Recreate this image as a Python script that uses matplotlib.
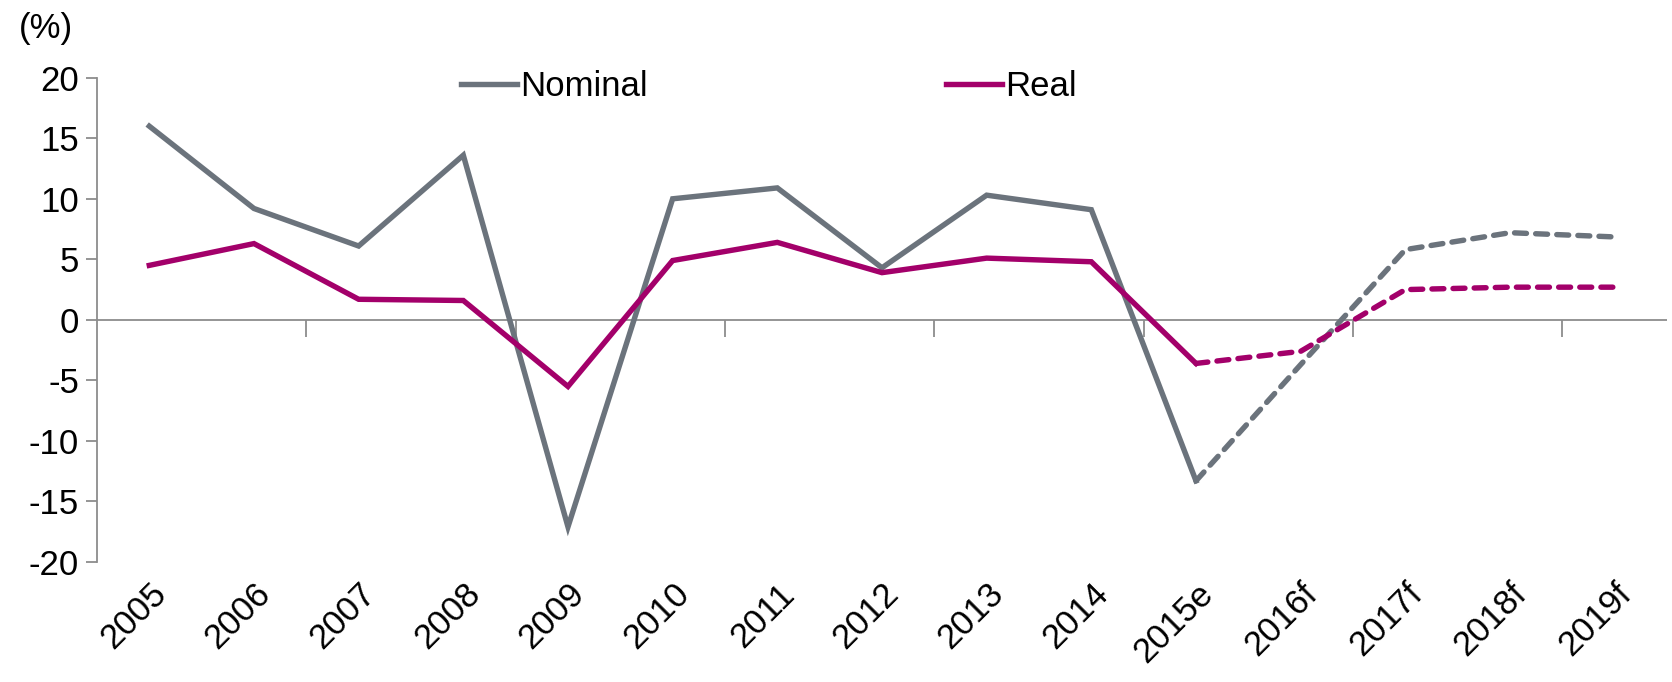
import matplotlib
matplotlib.use("Agg")
import matplotlib.pyplot as plt
import numpy as np

plt.rcParams['font.family'] = ['Liberation Sans', 'DejaVu Sans']
plt.rcParams['axes.unicode_minus'] = False

# Data
years = ['2005', '2006', '2007', '2008', '2009', '2010', '2011', '2012',
         '2013', '2014', '2015e', '2016f', '2017f', '2018f', '2019f']
nominal = [16.0, 9.2, 6.1, 13.6, -17.1, 10.0, 10.9, 4.3,
           10.3, 9.1, -13.3, -3.7, 5.8, 7.2, 6.85]
real = [4.5, 6.3, 1.7, 1.6, -5.5, 4.9, 6.4, 3.9,
        5.1, 4.8, -3.6, -2.6, 2.5, 2.7, 2.7]
n_actual = 11  # 2005..2015e solid, rest forecast (dashed)

grey = '#6b737c'
magenta = '#a3006a'
axis_col = '#8c8c8c'
fs = 25
lw = 3.9

fig = plt.figure(figsize=(16.72, 6.82), dpi=100)
ax = fig.add_axes([0.058, 0.176, 0.939, 0.710])

x = np.arange(len(years))

# solid part
ax.plot(x[:n_actual], nominal[:n_actual], color=grey, lw=lw, label='Nominal',
        solid_joinstyle='miter')
ax.plot(x[:n_actual], real[:n_actual], color=magenta, lw=lw, label='Real',
        solid_joinstyle='miter')
# forecast part
ax.plot(x[n_actual - 1:], nominal[n_actual - 1:], color=grey, lw=lw,
        linestyle=(0, (2.2, 1.7)), dash_capstyle='round')
ax.plot(x[n_actual - 1:], real[n_actual - 1:], color=magenta, lw=lw,
        linestyle=(0, (2.2, 1.7)), dash_capstyle='round')

ax.set_xlim(-0.5, len(years) - 0.5)
ax.set_ylim(-20, 20)
ax.set_yticks(np.arange(-20, 21, 5))

# y axis styling
for s in ['top', 'right', 'bottom']:
    ax.spines[s].set_visible(False)
ax.spines['left'].set_color(axis_col)
ax.spines['left'].set_linewidth(1.3)
ax.tick_params(axis='y', direction='out', length=8, width=1.3, color=axis_col,
               labelsize=fs, pad=5)

# category labels at bottom
ax.set_xticks(x)
ax.set_xticklabels(years, rotation=45, ha='right', rotation_mode='anchor')
ax.tick_params(axis='x', length=0, labelsize=fs, pad=11)

# zero line with tick marks every two categories
ax.axhline(0, color=axis_col, lw=1.3, zorder=1)
sec = ax.secondary_xaxis(0.5)
sec.set_xticks(np.arange(1.5, len(years), 2))
sec.tick_params(axis='x', direction='in', length=12, width=1.3,
                color=axis_col, labeltop=False, labelbottom=False)
for s in sec.spines.values():
    s.set_visible(False)

# legend
leg = ax.legend(loc='upper left', bbox_to_anchor=(0.212, 1.08), ncol=2,
                frameon=False, fontsize=fs, handlelength=1.6,
                handletextpad=0.1, columnspacing=8.6)

fig.text(0.011, 0.958, '(%)', fontsize=fs, ha='left', va='center')

fig.savefig('out.png', dpi=100)
